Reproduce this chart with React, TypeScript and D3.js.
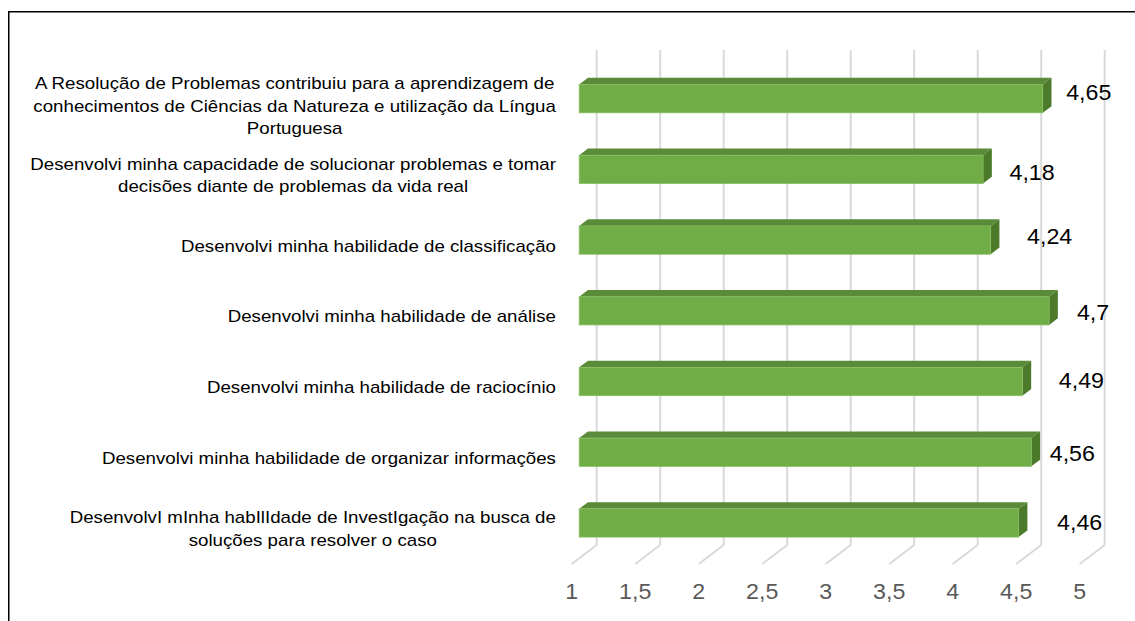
import React from "react";
import * as d3 from "d3";

const categories: string[][] = [
  [
    "A Resolução de Problemas contribuiu para a aprendizagem de",
    "conhecimentos de Ciências da Natureza e utilização da Língua",
    "Portuguesa",
  ],
  [
    "Desenvolvi minha capacidade de solucionar problemas e tomar",
    "decisões diante de problemas da vida real",
  ],
  ["Desenvolvi minha habilidade de classificação"],
  ["Desenvolvi minha habilidade de análise"],
  ["Desenvolvi minha habilidade de raciocínio"],
  ["Desenvolvi minha habilidade de organizar informações"],
  [
    "DesenvolvI mInha habIlIdade de InvestIgação na busca de",
    "soluções para resolver o caso",
  ],
];
const values: number[] = [4.65, 4.18, 4.24, 4.7, 4.49, 4.56, 4.46];
const ticks: number[] = [1, 1.5, 2, 2.5, 3, 3.5, 4, 4.5, 5];

// layout-only nudges for the hand-placed value labels (px)
const labelDx = [46, 49, 59, 44, 59, 41, 61];
const labelDy = [-6, 2.5, -3.5, 2, -1, 1, -1];

const W = 1135;
const H = 621;
const FONT = "'Liberation Sans', Arial, sans-serif";

const DX = 25; // depth offset x (front -> back)
const DY = 19; // depth offset y (front -> back, upward)
const F0 = 0.3; // bar front depth fraction
const BD = 0.35; // bar depth fraction

const xBack = d3.scaleLinear().domain([1, 5]).range([596.7, 1104.7]);
const xFront = (v: number) => xBack(v) - DX;
const backTop = 50;
const backBottom = 545;
const yFront = d3
  .scaleBand<number>()
  .domain(d3.range(values.length))
  .range([backTop + DY, backBottom + DY]);

const fmt = (v: number) => String(v).replace(".", ",");

const catFs = 17.4;
const catSx = 1.075;
const lh = 22.3;
const valFs = 21.5;
const valSx = 1.08;
const labelRight = 556;

let ctx: CanvasRenderingContext2D | null = null;
function measure(s: string): number {
  if (!ctx && typeof document !== "undefined") {
    ctx = document.createElement("canvas").getContext("2d");
  }
  if (!ctx) return s.length * catFs * 0.5 * catSx;
  ctx.font = `${catFs}px 'Liberation Sans', Arial, sans-serif`;
  return ctx.measureText(s).width * catSx;
}

export default function App() {
  const bw = yFront.bandwidth();
  const barH = bw * 0.4;
  const bdx = BD * DX;
  const bdy = BD * DY;

  return (
    <svg
      width={W}
      height={H}
      style={{ position: "absolute", left: 0, top: 0, display: "block", background: "#fff" }}
      fontFamily={FONT}
    >
      <rect x={0} y={0} width={W} height={H} fill="#fff" />
      <rect x={8.75} y={11.75} width={W + 20} height={H + 20} fill="none" stroke="#000" strokeWidth={1.5} />

      {/* back wall gridlines + floor depth lines */}
      {ticks.map((t) => (
        <g key={"g" + t}>
          <line x1={xBack(t)} x2={xBack(t)} y1={backTop} y2={backBottom} stroke="#d9d9d9" strokeWidth={2} />
          <line x1={xBack(t)} x2={xFront(t)} y1={backBottom} y2={backBottom + DY} stroke="#d9d9d9" strokeWidth={2} />
        </g>
      ))}

      {/* bars */}
      {values.map((v, i) => {
        const cy = (yFront(i) as number) + bw / 2 - F0 * DY;
        const x0 = xFront(1) + F0 * DX;
        const x1 = xFront(v) + F0 * DX;
        const y0 = cy - barH / 2;
        const y1 = cy + barH / 2;
        const top = [
          [x0, y0],
          [x1, y0],
          [x1 + bdx, y0 - bdy],
          [x0 + bdx, y0 - bdy],
        ];
        const side = [
          [x1, y0],
          [x1 + bdx, y0 - bdy],
          [x1 + bdx, y1 - bdy],
          [x1, y1],
        ];
        return (
          <g key={"b" + i}>
            <polygon points={top.map((p) => p.join(",")).join(" ")} fill="#5a8b38" />
            <polygon points={side.map((p) => p.join(",")).join(" ")} fill="#4b7a2b" />
            <rect x={x0} y={y0} width={x1 - x0} height={y1 - y0} fill="#70ad47" stroke="#86bd62" strokeWidth={0.8} />
          </g>
        );
      })}

      {/* value labels */}
      {values.map((v, i) => {
        const cx = xFront(v) + F0 * DX + labelDx[i];
        const cy = (yFront(i) as number) + bw / 2 - F0 * DY + labelDy[i];
        return (
          <text
            key={"v" + i}
            transform={`translate(${cx},${cy + 0.358 * valFs}) scale(${valSx},1)`}
            textAnchor="middle"
            fontSize={valFs}
            fill="#000"
          >
            {fmt(v)}
          </text>
        );
      })}

      {/* axis tick labels */}
      {ticks.map((t) => (
        <text
          key={"t" + t}
          transform={`translate(${xFront(t)},${591.7 + 0.358 * valFs}) scale(${valSx},1)`}
          textAnchor="middle"
          fontSize={valFs}
          fill="#595959"
        >
          {fmt(t)}
        </text>
      ))}

      {/* category labels: block right-aligned, lines centred within block */}
      {categories.map((lines, i) => {
        const cy = (yFront(i) as number) + bw / 2 + (lines.length > 2 ? 1.5 : 0);
        const blockW = Math.max(...lines.map(measure));
        const ax = labelRight - blockW / 2;
        return (
          <g key={"c" + i}>
            {lines.map((ln, k) => {
              const y = cy + (k - (lines.length - 1) / 2) * lh + 0.33 * catFs;
              return (
                <text
                  key={k}
                  transform={`translate(${ax},${y}) scale(${catSx},1)`}
                  textAnchor="middle"
                  fontSize={catFs}
                  fill="#000"
                >
                  {ln}
                </text>
              );
            })}
          </g>
        );
      })}
    </svg>
  );
}
